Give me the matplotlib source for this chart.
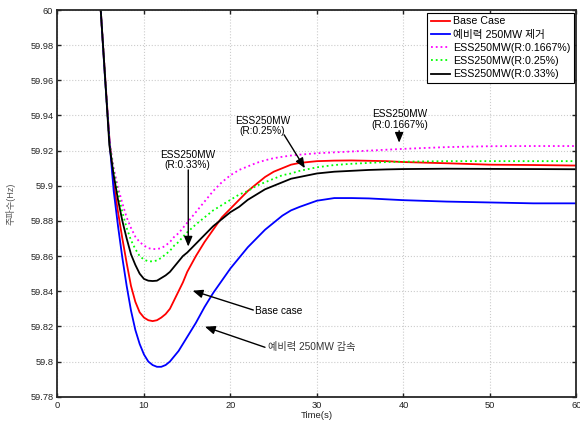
import matplotlib
matplotlib.use('Agg')
import matplotlib.pyplot as plt
from matplotlib.ticker import FuncFormatter

plt.rcParams['font.family'] = ['Liberation Sans', 'Noto Sans CJK KR']

# time (s) and frequency (Hz)
time = [5, 5.5, 6, 6.5, 7, 7.5, 8, 8.5, 9, 9.5,
        10, 10.5, 11, 11.5, 12, 12.5, 13, 13.5, 14, 14.5,
        15, 16, 17, 18, 19, 20, 21, 22, 23, 24,
        25, 26, 27, 28, 30, 32, 34, 36, 38, 40,
        45, 50, 55, 60]

base_case = [60.000, 59.962, 59.927, 59.901, 59.885, 59.870, 59.856, 59.843, 59.834, 59.828,
             59.825, 59.8235, 59.823, 59.8235, 59.825, 59.827, 59.830, 59.835, 59.840, 59.845,
             59.851, 59.860, 59.868, 59.875, 59.882, 59.887, 59.892, 59.897, 59.901, 59.905,
             59.908, 59.910, 59.912, 59.913, 59.914, 59.9143, 59.9144, 59.9142, 59.914, 59.9135,
             59.9128, 59.912, 59.9118, 59.9115]

reserve_250 = [60.000, 59.961, 59.926, 59.897, 59.877, 59.859, 59.843, 59.829, 59.818, 59.810,
               59.804, 59.800, 59.798, 59.797, 59.797, 59.798, 59.800, 59.803, 59.806, 59.810,
               59.814, 59.822, 59.831, 59.839, 59.846, 59.853, 59.859, 59.865, 59.870, 59.875,
               59.879, 59.883, 59.886, 59.888, 59.8915, 59.893, 59.893, 59.8928, 59.8923, 59.8918,
               59.891, 59.8905, 59.890, 59.890]

ess_01667 = [60.000, 59.963, 59.926, 59.910, 59.899, 59.890, 59.882, 59.876, 59.871, 59.868,
             59.866, 59.8645, 59.864, 59.864, 59.8645, 59.866, 59.868, 59.871, 59.873, 59.876,
             59.879, 59.885, 59.891, 59.897, 59.902, 59.906, 59.909, 59.911, 59.913, 59.9145,
             59.9157, 59.9165, 59.9172, 59.9177, 59.9185, 59.919, 59.9195, 59.920, 59.9205, 59.921,
             59.922, 59.9225, 59.9226, 59.9226]

ess_025 = [60.000, 59.962, 59.925, 59.908, 59.896, 59.885, 59.876, 59.869, 59.864, 59.860,
           59.858, 59.857, 59.857, 59.8575, 59.859, 59.861, 59.863, 59.866, 59.868, 59.871,
           59.8735, 59.878, 59.882, 59.886, 59.889, 59.892, 59.895, 59.897, 59.900, 59.902,
           59.904, 59.906, 59.907, 59.9085, 59.9105, 59.9118, 59.9125, 59.913, 59.9135, 59.9137,
           59.914, 59.914, 59.914, 59.914]

ess_033 = [60.000, 59.962, 59.923, 59.906, 59.892, 59.880, 59.870, 59.861, 59.855, 59.850,
           59.847, 59.846, 59.8458, 59.846, 59.8475, 59.849, 59.851, 59.854, 59.857, 59.860,
           59.862, 59.867, 59.872, 59.877, 59.881, 59.885, 59.888, 59.892, 59.895, 59.898,
           59.900, 59.902, 59.904, 59.905, 59.907, 59.908, 59.9085, 59.909, 59.9093, 59.9095,
           59.9097, 59.9096, 59.9095, 59.9094]

labels = ['Base Case', '예비력 250MW 제거', 'ESS250MW(R:0.1667%)',
          'ESS250MW(R:0.25%)', 'ESS250MW(R:0.33%)']

xticks = [0, 10, 20, 30, 40, 50, 60]
yticks = [59.78, 59.80, 59.82, 59.84, 59.86, 59.88, 59.90, 59.92, 59.94, 59.96, 59.98, 60.00]

fig = plt.figure(figsize=(5.8, 4.22), dpi=100)
ax = fig.add_axes([0.0991, 0.060, 0.8948, 0.9163])

ax.plot(time, base_case, color='#ff0000', lw=1.3, label=labels[0])
ax.plot(time, reserve_250, color='#0000ff', lw=1.3, label=labels[1])
ax.plot(time, ess_01667, color='#ff00ff', lw=1.3, ls=':', label=labels[2])
ax.plot(time, ess_025, color='#00ff00', lw=1.3, ls=':', label=labels[3])
ax.plot(time, ess_033, color='#000000', lw=1.3, label=labels[4])

ax.set_xlim(0, 60)
ax.set_ylim(59.78, 60)
ax.set_xticks(xticks)
ax.set_yticks(yticks)
ax.yaxis.set_major_formatter(FuncFormatter(lambda v, p: '%g' % round(v, 2)))
ax.grid(True, color='#cccccc', ls=':', lw=0.8)
ax.set_axisbelow(True)
ax.tick_params(direction='in', top=True, right=True, length=3, width=1,
               labelsize=6.7, pad=3, colors='#222222')
for s in ax.spines.values():
    s.set_linewidth(1.3)
    s.set_color('#262626')

ax.set_xlabel('Time(s)', fontsize=6.8, color='#222222', labelpad=1)
ax.set_ylabel('주파수(Hz)', fontsize=6.6, color='#555555')
ax.yaxis.set_label_coords(-0.08, 0.5)

leg = ax.legend(loc='upper right', bbox_to_anchor=(0.996, 0.993), fontsize=7.7,
                fancybox=False, edgecolor='k', framealpha=1, borderaxespad=0,
                handlelength=1.8, handletextpad=0.3, labelspacing=0.3, borderpad=0.35)
leg.get_frame().set_linewidth(0.8)

arrow = dict(arrowstyle='-|>,head_length=0.6,head_width=0.25', color='k', lw=1,
             mutation_scale=10, shrinkA=0, shrinkB=0)

ax.text(15.0, 59.9147, 'ESS250MW\n(R:0.33%)', ha='center', va='center', fontsize=7.3, linespacing=1.1)
ax.annotate('', xy=(15.12, 59.8654), xytext=(15.12, 59.909), arrowprops=arrow)

ax.text(23.67, 59.934, 'ESS250MW\n(R:0.25%)', ha='center', va='center', fontsize=7.3, linespacing=1.1)
ax.annotate('', xy=(28.6, 59.910), xytext=(26.2, 59.9290), arrowprops=arrow)

ax.text(39.6, 59.9377, 'ESS250MW\n(R:0.1667%)', ha='center', va='center', fontsize=7.3, linespacing=1.1)
ax.annotate('', xy=(39.5, 59.9245), xytext=(39.5, 59.9313), arrowprops=arrow)

ax.text(22.83, 59.8289, 'Base case', ha='left', va='center', fontsize=7.3)
ax.annotate('', xy=(15.63, 59.8403), xytext=(22.64, 59.8293), arrowprops=arrow)

ax.text(24.34, 59.8085, '예비력 250MW 감속', ha='left', va='center', fontsize=7.3, color='#333333')
ax.annotate('', xy=(17.05, 59.8198), xytext=(23.99, 59.8081), arrowprops=arrow)

fig.savefig('out.png', dpi=100)
